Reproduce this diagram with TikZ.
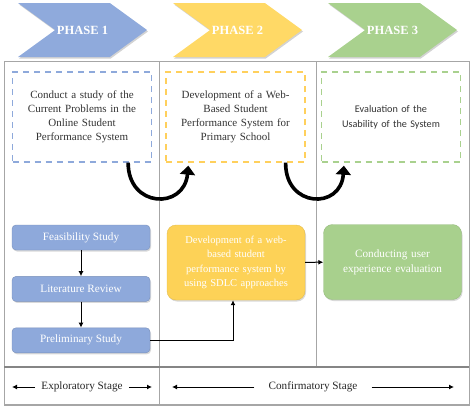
\documentclass[tikz,border=0pt]{standalone}
\usepackage{fontspec}
\setmainfont{Liberation Serif}
\newfontfamily\calibri{Carlito}
\usetikzlibrary{positioning,shapes.symbols,shadows,arrows.meta}

\definecolor{phaseblue}{HTML}{8FAADC}
\definecolor{phaseyellow}{HTML}{FFD966}
\definecolor{phasegreen}{HTML}{A9D18E}
\definecolor{boxblue}{HTML}{8EA9DB}
\definecolor{boxyellow}{HTML}{FDD257}
\definecolor{boxgreen}{HTML}{A8D08D}
\definecolor{gridgray}{HTML}{A6A6A6}

\begin{document}
\begin{tikzpicture}[x=1pt, y=-1pt,
        phase_node/.style={signal, signal from=west, signal to=east, signal pointer angle=72, minimum width=129pt, minimum height=54pt, inner sep=0pt, text=white, font=\bfseries\fontsize{12.5}{14}\selectfont, drop shadow={opacity=0.35, shadow xshift=1pt, shadow yshift=-1.5pt}},
        aim_node/.style={dash pattern=on 6pt off 5pt, line width=1.3pt, minimum height=90pt, minimum width=139pt, text width=130pt, align=center, text=black!80, font=\fontsize{11}{14}\selectfont},
        step_node/.style={rounded corners=4pt, fill=boxblue, draw=boxblue!85!black, text=white, minimum width=138pt, minimum height=25pt, font=\fontsize{11.2}{13}\selectfont, drop shadow={opacity=0.3, shadow xshift=1pt, shadow yshift=-1.5pt}},
        work_node/.style={rounded corners=9pt, text=white, minimum width=138pt, minimum height=75pt, text width=128pt, align=center, font=\fontsize{10.5}{14.5}\selectfont, drop shadow={opacity=0.3, shadow xshift=1pt, shadow yshift=-1.5pt}},
        stage_node/.style={text=black!85, font=\fontsize{11.2}{13}\selectfont},
        turn_arrow/.style={line width=3.6pt, -{Triangle[width=15pt, length=9pt]}},
        ]
            \useasboundingbox (0,0) rectangle (474,407);

            % table
            \draw[gridgray, line width=0.8pt] (4,61) rectangle (469,405);
            \draw[gridgray, line width=0.8pt] (159,61) -- (159,405);
            \draw[gridgray, line width=0.8pt] (316,61) -- (316,367);
            \draw[gridgray!80!black, line width=1.3pt] (4,367) -- (469,367);
            \draw[gridgray, line width=1.6pt] (4,405) -- (469,405);

            % phases
            \node[phase_node, fill=phaseblue]   (phase_1) at (82.5,30)  {PHASE 1};
            \node[phase_node, fill=phaseyellow] (phase_2) at (237.5,30) {PHASE 2};
            \node[phase_node, fill=phasegreen]  (phase_3) at (392.5,30) {PHASE 3};

            % aims
            \node[aim_node, draw=boxblue]   (aim_1) at (82,117)    {Conduct a study of the\\Current Problems in the\\Online Student\\Performance System\\[5pt]};
            \node[aim_node, draw=phaseyellow!90!orange] (aim_2) at (235.5,117) {Development of a Web-\\Based Student\\Performance System for\\Primary School\\[5pt]};
            \node[aim_node, draw=phasegreen, font=\calibri\fontsize{10.2}{15}\selectfont] (aim_3) at (391,117) {Evaluation of the\\Usability of the System\\[3pt]};

            % turns
            \draw[turn_arrow] ([xshift=-24pt]aim_1.south east) .. controls (128,208) and (184,210) .. ([xshift=23pt,yshift=-3pt]aim_2.south west);
            \draw[turn_arrow] ([xshift=-20pt]aim_2.south east) .. controls (285,208) and (341,210) .. ([xshift=23pt,yshift=-3pt]aim_3.south west);

            % steps
            \node[step_node] (feasibility) at (81,237.5)               {Feasibility Study};
            \node[step_node] (literature)  [below=26pt of feasibility]  {Literature Review};
            \node[step_node] (preliminary) [below=26pt of literature]   {Preliminary Study};
            \node[work_node, fill=boxyellow, draw=boxyellow!90!black] (web_dev)    at (236,262.5) {Development of a web-\\based student\\performance system by\\using SDLC approaches};
            \node[work_node, fill=boxgreen, draw=boxgreen!90!black, font=\fontsize{11.2}{15}\selectfont] (ux_eval) at (392.5,262) {Conducting user\\experience evaluation\\[12pt]};

            % lines
            \draw[line width=1pt, -{Latex[length=5pt, width=5pt]}] (feasibility) -- (literature);
            \draw[line width=1pt, -{Latex[length=5pt, width=5pt]}] (literature) -- (preliminary);
            \draw[line width=1pt, -{Latex[length=5pt, width=5pt]}] (preliminary) -| ([xshift=-3pt]web_dev.south);
            \draw[line width=1pt, -{Latex[length=5pt, width=5pt]}] (web_dev) -- (ux_eval);

            % stages
            \node[stage_node, inner xsep=6pt]  (exploratory)  at (82,387)  {Exploratory Stage};
            \node[stage_node, inner xsep=14pt] (confirmatory) at (313,387) {Confirmatory Stage};
            \coordinate (exp_left)  at (12,387);
            \coordinate (exp_right) at (152,387);
            \coordinate (con_left)  at (172,387);
            \coordinate (con_right) at (454,387);
            \draw[line width=1pt, -{Latex[length=5pt, width=5pt]}] (exploratory) -- (exp_left);
            \draw[line width=1pt, -{Latex[length=5pt, width=5pt]}] (exploratory) -- (exp_right);
            \draw[line width=1pt, -{Latex[length=5pt, width=5pt]}] (confirmatory) -- (con_left);
            \draw[line width=1pt, -{Latex[length=5pt, width=5pt]}] (confirmatory) -- (con_right);
        \end{tikzpicture}
\end{document}
